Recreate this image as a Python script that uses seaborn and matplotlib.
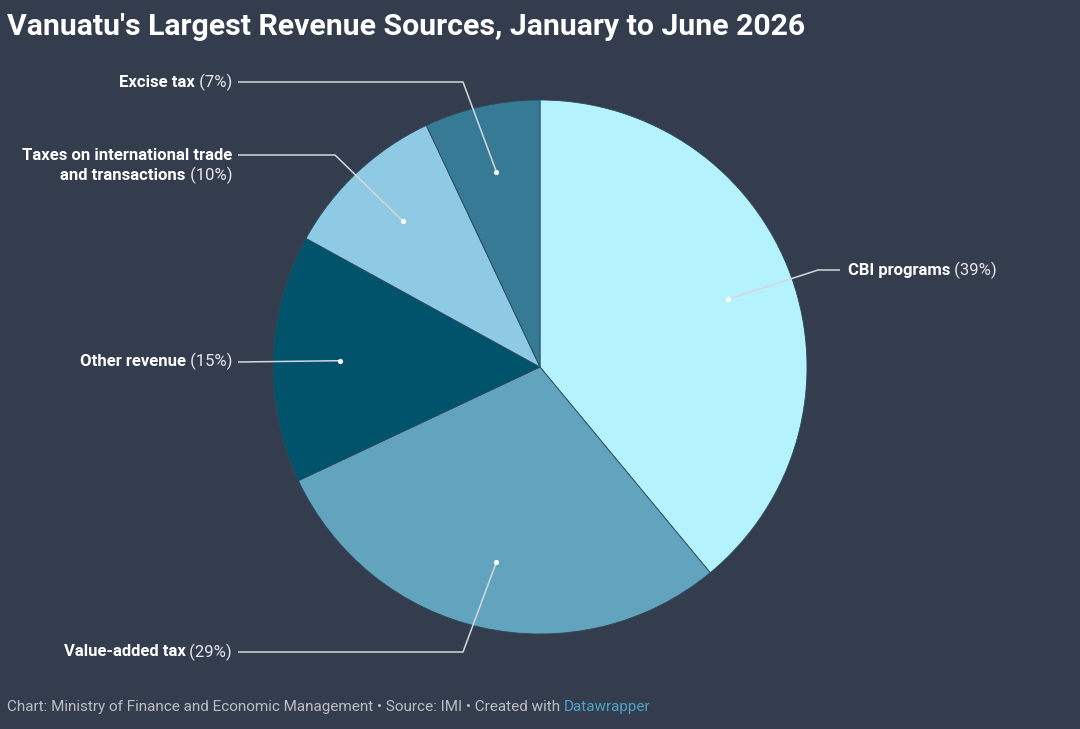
import matplotlib
matplotlib.use("Agg")
import matplotlib.pyplot as plt
import numpy as np
import seaborn as sns

# data
categories = ["CBI programs", "Value-added tax", "Other revenue",
              "Taxes on international trade\nand transactions", "Excise tax"]
shares = [39, 29, 15, 10, 7]
colors = ["#b4f3fd", "#62a3be", "#01536b", "#8fcae5", "#367a95"]

TITLE = "Vanuatu's Largest Revenue Sources, January to June 2026"
FOOTER = "Chart: Ministry of Finance and Economic Management \u2022 Source: IMI \u2022 Created with "
BG = "#343d4e"
W, H = 1080, 729

sns.set_theme(style="dark", rc={"figure.facecolor": BG, "axes.facecolor": BG})
plt.rcParams["font.family"] = ["Roboto", "DejaVu Sans"]

fig = plt.figure(figsize=(W / 100, H / 100), dpi=100)
ax = fig.add_axes([0, 0, 1, 1])

CX, CY, R = 540, H - 367, 267
wedges, _ = ax.pie(shares, colors=sns.color_palette(colors), startangle=90,
                   counterclock=False, center=(CX, CY), radius=R,
                   wedgeprops=dict(edgecolor="#2c4a5a", linewidth=0.6),
                   frame=True)
ax.set_xlim(0, W)
ax.set_ylim(0, H)
ax.set_axis_off()

# anchor dots at 0.75R on slice mid angle
cum = np.cumsum([0] + shares)
mids = [(cum[i] + cum[i + 1]) / 2 / sum(shares) for i in range(len(shares))]
dots = []
for m in mids:
    a = np.deg2rad(90 - 360 * m)
    dots.append((CX + 0.75 * R * np.cos(a), CY + 0.75 * R * np.sin(a)))

# label layout: elbow points (pixel coords from top) + text anchor
layout = {
    0: dict(path=[(818, 270), (840, 270)], tx=848, ty=270, ha="left"),
    1: dict(path=[(463, 652), (238, 652)], tx=232, ty=652, ha="right"),
    2: dict(path=[(238, 362)], tx=232, ty=361, ha="right"),
    3: dict(path=[(335, 155), (238, 155)], tx=232, ty=155, ha="right"),
    4: dict(path=[(463, 82), (238, 82)], tx=232, ty=82, ha="right"),
}

fig.canvas.draw()
renderer = fig.canvas.get_renderer()
LABEL_SIZE = 12
TXT = "white"
PCT = "#e6e8ec"


def text_width(s, weight):
    t = ax.text(0, 0, s, fontsize=LABEL_SIZE, fontweight=weight)
    w = t.get_window_extent(renderer=renderer).width
    t.remove()
    return w


def draw_label(name, pct, x, y, ha):
    pct_s = " (%d%%)" % pct
    if ha == "right":
        ax.text(x, y, pct_s, ha="right", va="center", fontsize=LABEL_SIZE, color=PCT)
        ax.text(x - text_width(pct_s, "normal"), y, name, ha="right", va="center",
                fontsize=LABEL_SIZE, fontweight="bold", color=TXT)
    else:
        ax.text(x, y, name, ha="left", va="center", fontsize=LABEL_SIZE,
                fontweight="bold", color=TXT)
        ax.text(x + text_width(name, "bold"), y, pct_s, ha="left", va="center",
                fontsize=LABEL_SIZE, color=PCT)


for i, (name, pct) in enumerate(zip(categories, shares)):
    lay = layout[i]
    xs = [dots[i][0]] + [p[0] for p in lay["path"]]
    ys = [dots[i][1]] + [H - p[1] for p in lay["path"]]
    ax.plot(xs, ys, color="#d4d7dc", lw=1.1, solid_capstyle="butt")
    ax.scatter([dots[i][0]], [dots[i][1]], s=14, color="white", zorder=5, linewidths=0)
    ty = H - lay["ty"]
    if "\n" in name:
        first, second = name.split("\n")
        ax.text(lay["tx"], ty, first, ha="right", va="center", fontsize=LABEL_SIZE,
                fontweight="bold", color=TXT)
        draw_label(second, pct, lay["tx"], ty - 20, "right")
    else:
        draw_label(name, pct, lay["tx"], ty, lay["ha"])

# title and footer
ax.text(7, H - 27, TITLE, ha="left", va="center", fontsize=21.8,
        fontweight="bold", color="white")
foot = ax.text(7, H - 707, FOOTER, ha="left", va="center", fontsize=11, color="#b9bdc5")
fw = foot.get_window_extent(renderer=renderer).width
ax.text(7 + fw, H - 707, "Datawrapper", ha="left", va="center", fontsize=11,
        color="#4fa2c6")

fig.savefig("out.png", dpi=100, facecolor=BG)
